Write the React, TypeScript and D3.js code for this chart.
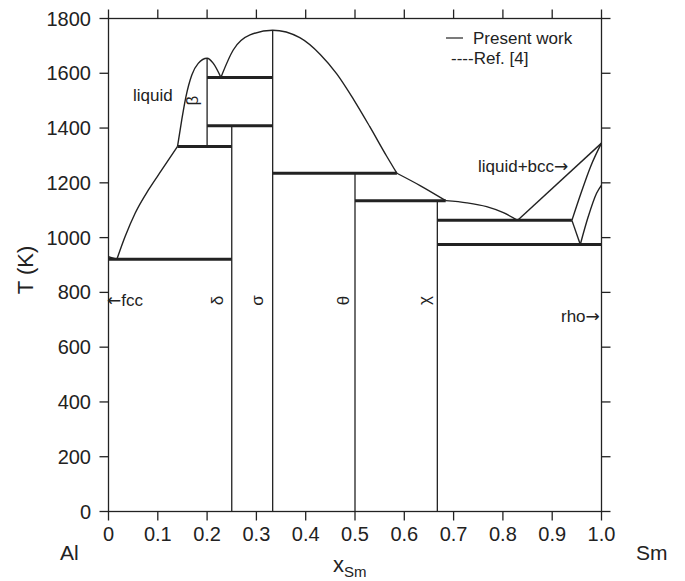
import React from 'react';
import * as d3 from 'd3';

// Composition ticks and temperature ticks
const xTicks = [0, 0.1, 0.2, 0.3, 0.4, 0.5, 0.6, 0.7, 0.8, 0.9, 1.0];
const xTickLabels = ['0', '0.1', '0.2', '0.3', '0.4', '0.5', '0.6', '0.7', '0.8', '0.9', '1.0'];
const yTicks = [0, 200, 400, 600, 800, 1000, 1200, 1400, 1600, 1800];

// Phase boundaries as [x_Sm, T(K)]
const fccSolvus: [number, number][] = [[0, 930], [0.008, 926], [0.017, 921]];
const leftLiquidus: [number, number][] = [
  [0.017, 921], [0.0335, 1003], [0.054, 1089], [0.081, 1174], [0.108, 1247], [0.14, 1333],
];
const betaLiquidus: [number, number][] = [
  [0.14, 1333], [0.1485, 1429], [0.157, 1514], [0.169, 1594], [0.182, 1636], [0.2, 1655], [0.2126, 1636], [0.228, 1585],
];
const sigmaLiquidus: [number, number][] = [
  [0.228, 1585], [0.253, 1685], [0.287, 1740], [0.333, 1757], [0.388, 1730], [0.43, 1668],
  [0.463, 1598], [0.497, 1505], [0.53, 1405], [0.564, 1298], [0.585, 1235],
];
const thetaLiquidus: [number, number][] = [[0.585, 1235], [0.632, 1190], [0.684, 1135]];
const chiLiquidus: [number, number][] = [
  [0.684, 1135], [0.727, 1127], [0.767, 1113], [0.801, 1091], [0.83, 1063],
];
const bccLiquidus: [number, number][] = [[0.83, 1063], [1.0, 1345]];
const bccSolvusUpper: [number, number][] = [[0.94, 1063], [0.958, 1160], [0.978, 1260], [1.0, 1345]];
const bccEutectoid: [number, number][] = [[0.94, 1063], [0.957, 975]];
const bccSolvusLower: [number, number][] = [[0.957, 975], [0.973, 1076], [0.99, 1162], [1.0, 1192]];

// Compounds: [x, Tbottom, Ttop]
const compounds: [number, number, number][] = [
  [0.2, 1333, 1655],
  [0.25, 0, 1408],
  [0.333, 0, 1757],
  [0.5, 0, 1235],
  [0.667, 0, 1135],
];

// Invariant reactions: [T, xFrom, xTo]
const invariants: [number, number, number][] = [
  [921, 0, 0.25],
  [1333, 0.14, 0.25],
  [1408, 0.2, 0.333],
  [1585, 0.2, 0.333],
  [1235, 0.333, 0.585],
  [1135, 0.5, 0.684],
  [1063, 0.667, 0.94],
  [975, 0.667, 1.0],
];

// Phase labels on the compound lines
const phaseLabels: [string, number][] = [
  ['δ', 0.233],
  ['σ', 0.314],
  ['θ', 0.487],
  ['χ', 0.652],
];

const curves = [
  fccSolvus, leftLiquidus, betaLiquidus, sigmaLiquidus, thetaLiquidus,
  chiLiquidus, bccLiquidus, bccSolvusUpper, bccEutectoid, bccSolvusLower,
];

const App: React.FC = () => {
  const width = 685;
  const height = 581;
  const left = 108.5, right = 601.5, top = 18.5, bottom = 511.5;

  const x = d3.scaleLinear().domain([0, 1]).range([left, right]);
  const y = d3.scaleLinear().domain([0, 1800]).range([bottom, top]);

  // boundaries all run left to right, so a monotone-in-x curve keeps them smooth without overshoot
  const line = d3
    .line<[number, number]>()
    .x(d => x(d[0]))
    .y(d => y(d[1]))
    .curve(d3.curveMonotoneX);

  const ink = '#222';
  const font = 'Liberation Sans, Arial, sans-serif';
  const arrowFont = 'DejaVu Sans, sans-serif';
  const tickLen = 9;

  return (
    <svg
      width={width}
      height={height}
      style={{ position: 'absolute', left: 0, top: 0, background: '#fff' }}
      fontFamily={font}
    >
      {/* frame */}
      <rect x={left} y={top} width={right - left} height={bottom - top} fill="none" stroke={ink} strokeWidth={1.3} />

      {/* x ticks, top and bottom */}
      {xTicks.map((t, i) => (
        <g key={'xt' + i}>
          <line x1={x(t)} x2={x(t)} y1={bottom} y2={bottom + tickLen} stroke={ink} strokeWidth={1.3} />
          <line x1={x(t)} x2={x(t)} y1={top} y2={top - tickLen} stroke={ink} strokeWidth={1.3} />
          <text x={x(t)} y={541} textAnchor="middle" fontSize={20} fill={ink}>
            {xTickLabels[i]}
          </text>
        </g>
      ))}

      {/* y ticks, left and right */}
      {yTicks.map(t => (
        <g key={'yt' + t}>
          <line x1={left - tickLen} x2={left} y1={y(t)} y2={y(t)} stroke={ink} strokeWidth={1.3} />
          <line x1={right} x2={right + tickLen} y1={y(t)} y2={y(t)} stroke={ink} strokeWidth={1.3} />
          <text x={91} y={y(t) + 7} textAnchor="end" fontSize={20} fill={ink}>
            {t}
          </text>
        </g>
      ))}

      {/* axis titles */}
      <text transform="translate(33,270) rotate(-90)" textAnchor="middle" fontSize={22} fill={ink}>
        T (K)
      </text>
      <text x={60} y={560} fontSize={21} fill={ink}>Al</text>
      <text x={636} y={560} fontSize={21} fill={ink}>Sm</text>
      <text x={333} y={572} fontSize={22} fill={ink}>
        x<tspan dy={5} fontSize={15}>Sm</tspan>
      </text>

      {/* compound lines */}
      {compounds.map((c, i) => (
        <line key={'c' + i} x1={x(c[0])} x2={x(c[0])} y1={y(c[1])} y2={y(c[2])} stroke={ink} strokeWidth={1.3} />
      ))}

      {/* phase boundary curves */}
      {curves.map((c, i) => (
        <path key={'p' + i} d={line(c) || ''} fill="none" stroke={ink} strokeWidth={1.4} />
      ))}

      {/* invariant reactions */}
      {invariants.map((r, i) => (
        <line key={'r' + i} x1={x(r[1])} x2={x(r[2])} y1={y(r[0])} y2={y(r[0])} stroke={ink} strokeWidth={3} />
      ))}

      {/* labels */}
      <text x={133} y={101} fontSize={17} fill={ink}>liquid</text>
      <text transform={`translate(${x(0.181)},${y(1500)}) rotate(-90)`} textAnchor="middle" fontSize={17} fill={ink}>β</text>
      {phaseLabels.map(([s, px]) => (
        <text key={s} transform={`translate(${x(px)},${y(770)}) rotate(-90)`} textAnchor="middle" fontSize={17} fill={ink}>
          {s}
        </text>
      ))}
      <text x={107} y={306} fontSize={17} fill={ink}>
        <tspan fontFamily={arrowFont}>←</tspan>fcc
      </text>
      <text x={561} y={322} fontSize={17} fill={ink}>
        rho<tspan fontFamily={arrowFont}>→</tspan>
      </text>
      <text x={478} y={172} fontSize={17} fill={ink}>
        liquid+bcc<tspan fontFamily={arrowFont}>→</tspan>
      </text>

      {/* legend */}
      <line x1={446} x2={463} y1={38} y2={38} stroke={ink} strokeWidth={1.2} />
      <text x={473} y={44} fontSize={17} fill={ink}>Present work</text>
      <text x={451} y={64} fontSize={17} fill={ink}>----Ref. [4]</text>
    </svg>
  );
};

export default App;
